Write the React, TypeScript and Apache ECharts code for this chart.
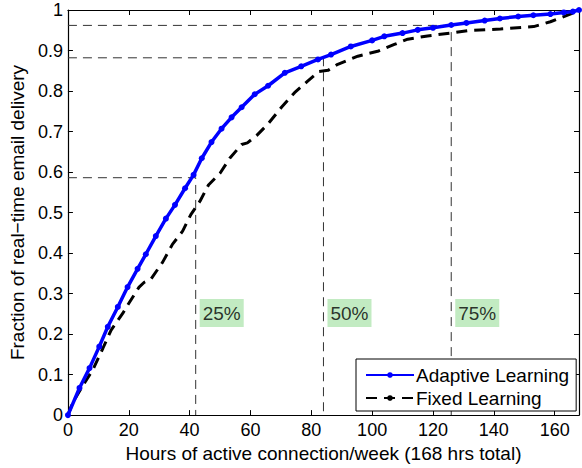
import React, { useEffect, useRef } from "react";
import * as echarts from "echarts";

// Adaptive Learning (hours, fraction)
const adaptiveHours = [0, 3.8, 7.1, 10.3, 13.1, 16.4, 19.6, 22.9, 25.6, 28.9, 32.2, 35.2, 38.5, 41.3, 44, 47.2, 50.5, 53.8, 57.1, 61.4, 65.8, 71.3, 76.7, 82.2, 86.5, 93, 100, 104, 110, 115, 120, 126, 131, 137, 142, 148, 153, 158.6, 163, 166, 168];
const adaptiveFrac = [0, 0.067, 0.116, 0.169, 0.218, 0.267, 0.316, 0.361, 0.397, 0.442, 0.485, 0.519, 0.56, 0.593, 0.634, 0.674, 0.707, 0.735, 0.76, 0.792, 0.813, 0.845, 0.861, 0.878, 0.89, 0.91, 0.925, 0.935, 0.943, 0.951, 0.956, 0.963, 0.968, 0.974, 0.979, 0.984, 0.987, 0.99, 0.994, 0.996, 1];

// Fixed Learning (hours, fraction)
const fixedHours = [0, 1.6, 4.4, 8.2, 11.5, 14.2, 18, 19.6, 23.4, 25.1, 27.3, 31.1, 34.4, 37.7, 40.4, 43.4, 46.2, 50, 53.2, 57.1, 59, 62, 65.8, 70.2, 74.5, 78.9, 82.5, 85.5, 88.7, 95.3, 101.8, 107.3, 111.7, 118.2, 125.8, 131.3, 142.2, 153.1, 158.6, 166.2, 168];
const fixedFrac = [0, 0.031, 0.067, 0.112, 0.165, 0.21, 0.251, 0.271, 0.316, 0.328, 0.336, 0.377, 0.422, 0.454, 0.495, 0.528, 0.568, 0.597, 0.634, 0.668, 0.672, 0.69, 0.719, 0.76, 0.796, 0.825, 0.848, 0.851, 0.866, 0.886, 0.898, 0.915, 0.928, 0.936, 0.943, 0.949, 0.953, 0.959, 0.971, 0.993, 1];

// Reference quartile markers
const refHours = [42, 84, 126];
const refFrac = [0.586, 0.882, 0.962];
const refLabels = ["25%", "50%", "75%"];
const refLabelFrac = 0.252;

const xTicks = [0, 20, 40, 60, 80, 100, 120, 140, 160];

const FONT = "'Liberation Sans', Arial, Helvetica, sans-serif";

export default function App() {
  const ref = useRef<HTMLDivElement>(null);
  useEffect(() => {
    if (!ref.current) return;
    const chart = echarts.init(ref.current, null, { renderer: "svg" });
    const zip = (a: number[], b: number[]) => a.map((v, i) => [v, b[i]]);
    const refSeries = refHours.map((h, i) => ({
      type: "line",
      name: "ref" + i,
      data: [[0, refFrac[i]], [h, refFrac[i]], [h, 0]],
      symbol: "none",
      silent: true,
      z: 1,
      lineStyle: { color: "#333", width: 1, type: [9, 6] },
    }));
    const axisCommon = {
      axisLine: { show: true, onZero: false, lineStyle: { color: "#000", width: 1.2 } },
      splitLine: { show: false },
    };
    chart.setOption({
      animation: false,
      backgroundColor: "#fff",
      grid: { left: 65.7, right: 3, top: 10, bottom: 48.7, containLabel: false },
      xAxis: [
        {
          type: "value",
          min: 0,
          max: 168,
          interval: 20,
          ...axisCommon,
          axisTick: { show: true, inside: true, length: 5, customValues: xTicks, lineStyle: { color: "#000" } },
          axisLabel: { customValues: xTicks, color: "#000", fontSize: 18, fontFamily: FONT, margin: 6 },
          name: "Hours of active connection/week (168 hrs total)",
          nameLocation: "middle",
          nameGap: 28,
          nameTextStyle: { color: "#000", fontSize: 19, fontFamily: FONT },
        },
        {
          type: "value",
          min: 0,
          max: 168,
          interval: 20,
          position: "top",
          ...axisCommon,
          axisTick: { show: true, inside: true, length: 5, customValues: xTicks, lineStyle: { color: "#000" } },
          axisLabel: { show: false },
        },
      ],
      yAxis: [
        {
          type: "value",
          min: 0,
          max: 1,
          interval: 0.1,
          ...axisCommon,
          axisTick: { show: true, inside: true, length: 5, lineStyle: { color: "#000" } },
          axisLabel: { color: "#000", fontSize: 18, fontFamily: FONT, margin: 5 },
          name: "Fraction of real\u2212time email delivery",
          nameLocation: "middle",
          nameGap: 39,
          nameTextStyle: { color: "#000", fontSize: 19, fontFamily: FONT },
        },
        {
          type: "value",
          min: 0,
          max: 1,
          interval: 0.1,
          position: "right",
          ...axisCommon,
          axisTick: { show: true, inside: true, length: 5, lineStyle: { color: "#000" } },
          axisLabel: { show: false },
        },
      ],
      legend: {
        data: ["Adaptive Learning", "Fixed Learning"],
        orient: "vertical",
        left: 356,
        top: 359,
        backgroundColor: "#fff",
        borderColor: "#000",
        borderWidth: 1,
        borderRadius: 0,
        padding: [6, 7, 3, 9],
        itemGap: 3,
        itemWidth: 48,
        itemHeight: 7,
        textStyle: { color: "#000", fontSize: 19, fontFamily: FONT, lineHeight: 20, padding: [0, 0, 0, -3] },
        z: 10,
      },
      series: [
        ...refSeries,
        {
          type: "scatter",
          name: "labels",
          data: refHours.map((h, i) => ({ value: [h, refLabelFrac], name: refLabels[i] })),
          symbolSize: 0,
          silent: true,
          z: 3,
          label: {
            show: true,
            position: "right",
            distance: 4,
            formatter: (p: any) => p.name,
            color: "#000",
            fontSize: 19,
            fontFamily: FONT,
            backgroundColor: "rgb(179,230,179)",
            padding: [5, 3, 4, 3],
          },
        },
        {
          type: "line",
          name: "Fixed Learning",
          data: zip(fixedHours, fixedFrac),
          symbol: "none",
          z: 4,
          lineStyle: { color: "#000", width: 3, type: [11, 7] },
          itemStyle: { color: "#000" },
        },
        {
          type: "line",
          name: "Adaptive Learning",
          data: zip(adaptiveHours, adaptiveFrac),
          symbol: "circle",
          symbolSize: 6,
          z: 5,
          lineStyle: { color: "#0000ff", width: 3.5 },
          itemStyle: { color: "#0000ff" },
        },
      ],
    });
    return () => chart.dispose();
  }, []);
  return <div ref={ref} style={{ position: "fixed", left: 0, top: 0, width: 582, height: 468 }} />;
}
